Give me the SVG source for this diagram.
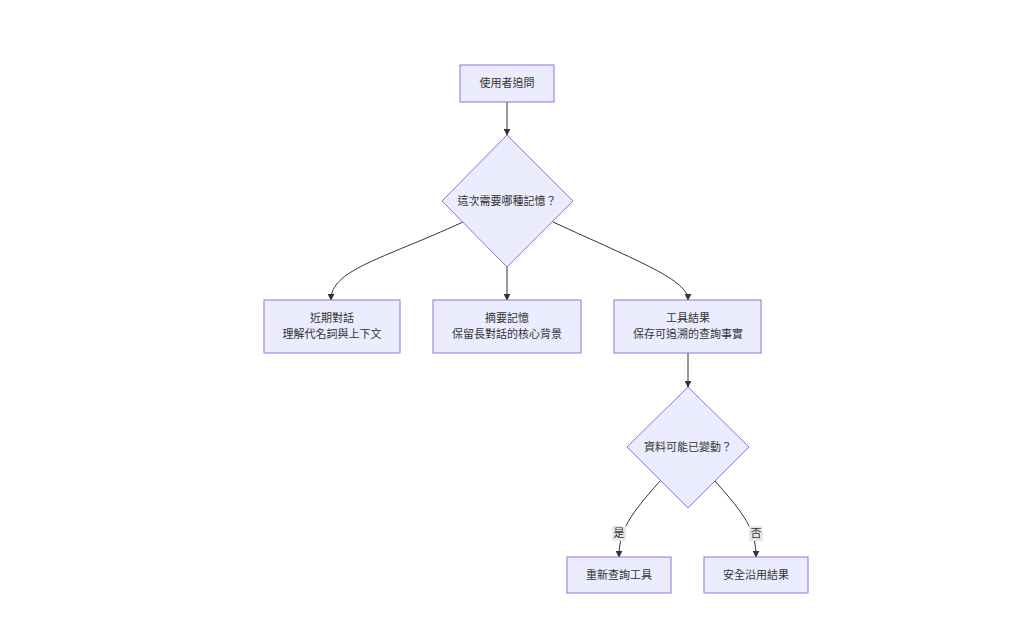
<svg xmlns="http://www.w3.org/2000/svg" width="1024" height="624" viewBox="0 0 1024 624">
<style>
.n{fill:#ECECFF;stroke:#9370DB;stroke-width:1}
.t{font-family:"Liberation Sans","Noto Sans CJK TC",sans-serif;font-size:11px;fill:#333;text-anchor:middle}
.e{fill:none;stroke:#333;stroke-width:1;marker-end:url(#a)}
.lb{fill:#e8e8e8}
</style>
<defs><marker id="a" viewBox="0 0 10 10" refX="9" refY="5" markerWidth="7" markerHeight="7" orient="auto"><path d="M0,0L10,5L0,10z" fill="#333"/></marker></defs>
<rect width="1024" height="624" fill="#fff"/>
<g id="edges">
<path class="e" d="M507,102V135"/>
<path class="e" d="M463,222C380,260 331,270 331,300"/>
<path class="e" d="M507,267V300"/>
<path class="e" d="M553,222C640,262 688,280 688,300"/>
<path class="e" d="M688,353V387"/>
<path class="e" d="M660,481C630,515 619,530 619,557"/>
<path class="e" d="M715,481C745,515 756,530 756,557"/>
<rect class="lb" x="612" y="526" width="14" height="15"/><text class="t" x="619" y="537">是</text>
<rect class="lb" x="749" y="526" width="14" height="15"/><text class="t" x="756" y="537">否</text>
</g>
<g id="n1"><rect class="n" x="460" y="65" width="94" height="37"/><text class="t" x="507" y="87">使用者追問</text></g>
<g id="n2"><path class="n" d="M507,135L573,201L507,267L442,201Z"/><text class="t" x="507" y="205">這次需要哪種記憶？</text></g>
<g id="n3"><rect class="n" x="264" y="300" width="136" height="53"/><text class="t" x="332" y="322">近期對話</text><text class="t" x="332" y="338">理解代名詞與上下文</text></g>
<g id="n4"><rect class="n" x="433" y="300" width="148" height="53"/><text class="t" x="507" y="322">摘要記憶</text><text class="t" x="507" y="338">保留長對話的核心背景</text></g>
<g id="n5"><rect class="n" x="614" y="300" width="147" height="53"/><text class="t" x="688" y="322">工具結果</text><text class="t" x="688" y="338">保存可追溯的查詢事實</text></g>
<g id="n6"><path class="n" d="M688,387L749,447L688,508L627,447Z"/><text class="t" x="688" y="451">資料可能已變動？</text></g>
<g id="n7"><rect class="n" x="567" y="557" width="104" height="36"/><text class="t" x="619" y="579">重新查詢工具</text></g>
<g id="n8"><rect class="n" x="704" y="557" width="104" height="36"/><text class="t" x="756" y="579">安全沿用結果</text></g>
</svg>
